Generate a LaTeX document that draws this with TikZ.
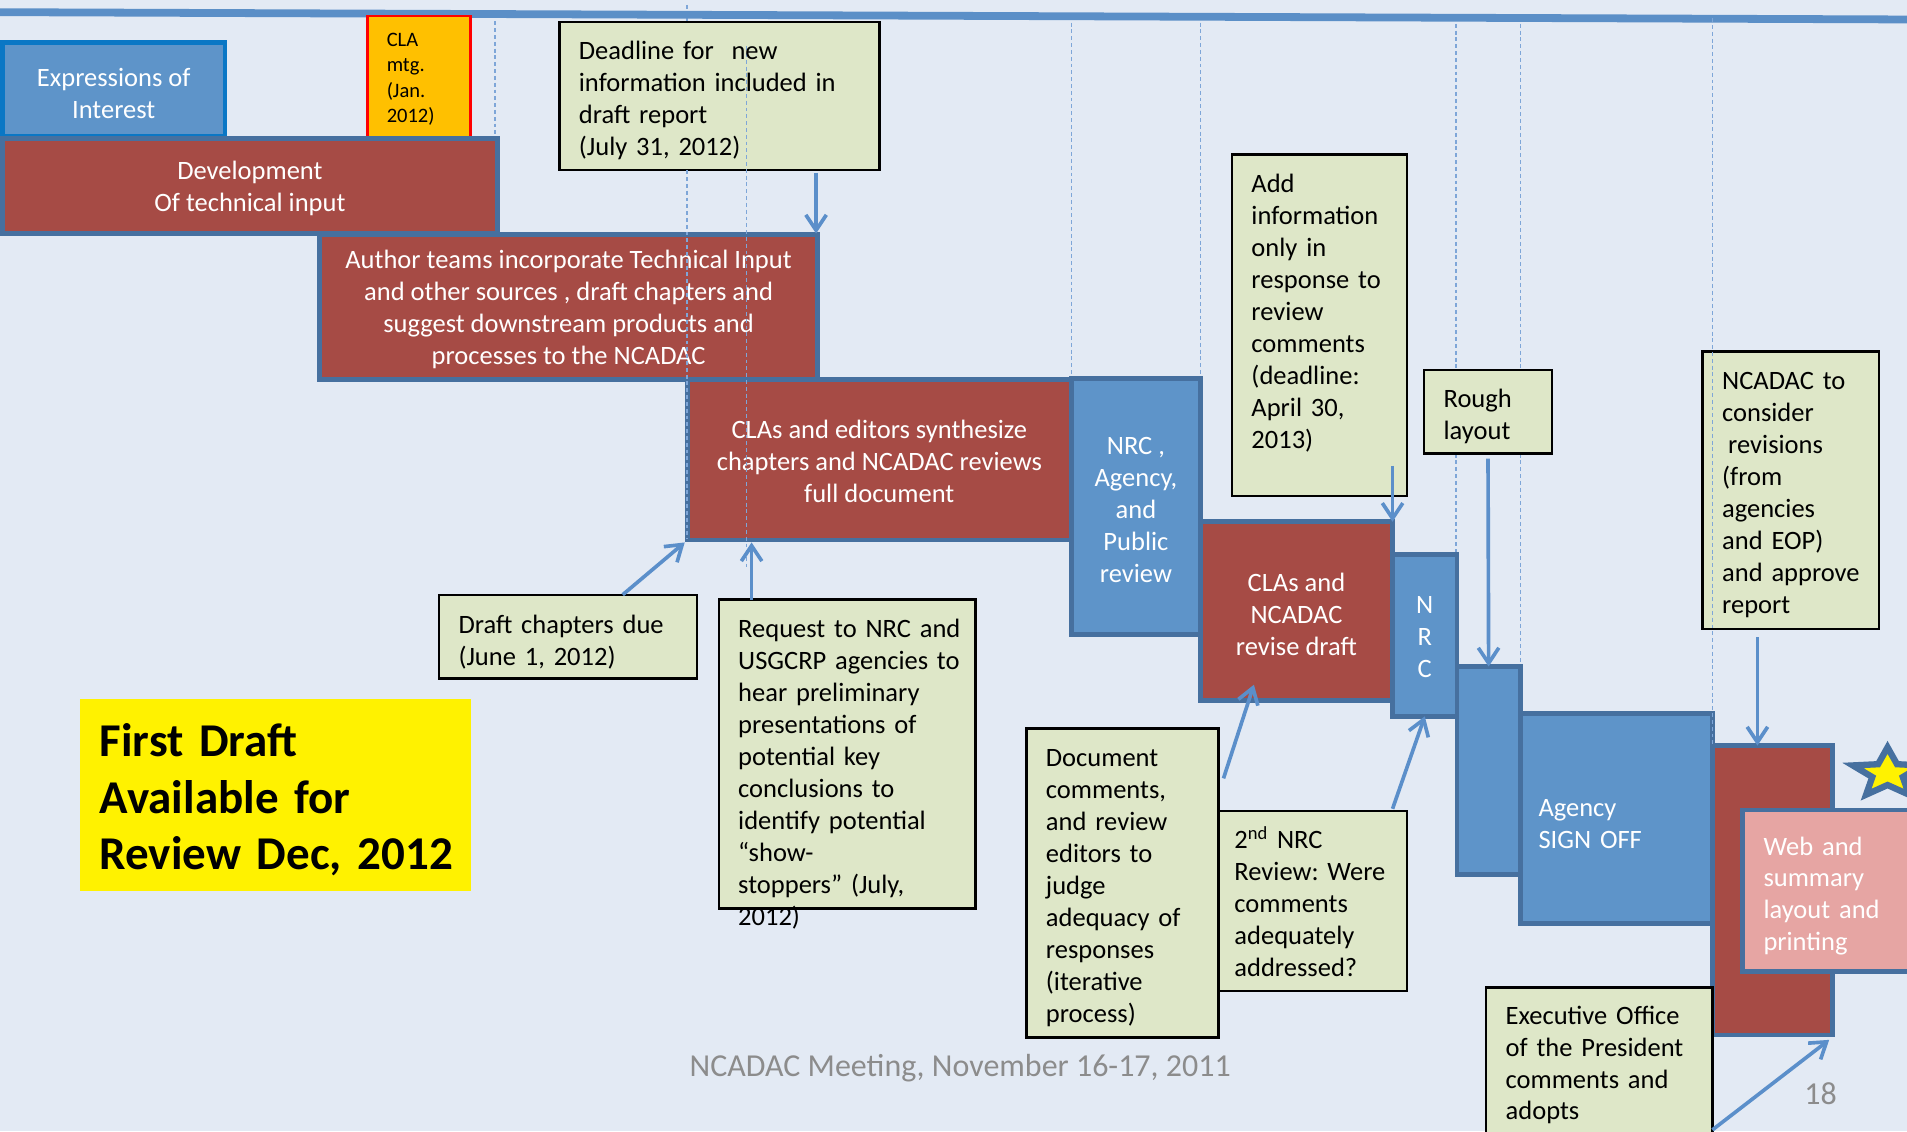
\documentclass[tikz,border=0pt]{standalone}
\usepackage{fontspec}
\setmainfont{Carlito}
\usetikzlibrary{arrows.meta,calc,fit}
\definecolor{bg}{HTML}{E3EAF4}
\definecolor{boxred}{HTML}{A64B45}
\definecolor{boxblue}{HTML}{5E94C9}
\definecolor{edgeblue}{HTML}{46709F}
\definecolor{brightblue}{HTML}{0A77C5}
\definecolor{notegreen}{HTML}{DEE7C8}
\definecolor{arrowblue}{HTML}{5B8FCA}
\definecolor{dashblue}{HTML}{7EA6D8}
\definecolor{pinkfill}{HTML}{E6A5A3}
\definecolor{footgray}{HTML}{8C8C8C}
\definecolor{clafill}{HTML}{FFC000}
\definecolor{linetop}{HTML}{5B8FC7}
\begin{document}
\frenchspacing
\begin{tikzpicture}[x=0.025cm,y=-0.025cm,
  every node/.style={inner sep=0pt, outer sep=0pt},
  phase/.style={draw=edgeblue, line width=0.1cm},
  redphase/.style={phase, fill=boxred},
  bluephase/.style={phase, fill=boxblue},
  phasetext/.style={text=white, align=center, font=\fontsize{15.5}{18.7}\selectfont},
  note/.style={fill=notegreen, draw=black, line width=0.05cm},
  notetext/.style={anchor=base west, text width=8cm, align=left, font=\fontsize{15.5}{18.7}\selectfont},
  smalltext/.style={anchor=base west, text width=3cm, align=left, font=\fontsize{12}{14.7}\selectfont},
  guide/.style={draw=dashblue, line width=0.03cm, dash pattern=on 0.08cm off 0.06cm},
  arr/.style={draw=arrowblue, line width=0.075cm, -{Straight Barb[length=9pt,width=12pt]}}
]
\useasboundingbox (0,0) rectangle (1568,930);
\clip (0,0) rectangle (1568,930);
\fill[bg] (0,0) rectangle (1568,930);

% guide lines behind
\draw[guide] (407,12) -- (407,114);
\draw[guide] (565,4) -- (565,18);
\draw[guide] (881,13) -- (881,311);
\draw[guide] (987,13) -- (987,311);
\draw[guide] (1197,14) -- (1197,304) (1197,373) -- (1197,456);
\draw[guide] (1250,14) -- (1250,304) (1250,373) -- (1250,548);

% top line
\draw[linetop, line width=0.16cm] (0,10) -- (1568,16);

% phase boxes
\node[bluephase, draw=brightblue, fit={(2,35) (185,112)}] (expr) {};
\node[draw=red, fill=clafill, line width=0.05cm, fit={(302,13) (387,114)}] (cla) {};
\node[redphase, fit={(2,114) (409,192)}] (dev) {};
\node[redphase, fit={(263,193) (672,312)}] (author) {};
\node[redphase, fit={(565,312) (881,444)}] (synth) {};
\node[bluephase, fit={(881,311) (987,522)}] (nrc) {};
\node[redphase, fit={(987,429) (1145,576)}] (revise) {};
\node[bluephase, fit={(1145,456) (1198,589)}] (nrcb) {};
\node[bluephase, fit={(1198,548) (1250,719)}] (blank) {};
\node[bluephase, fit={(1250,587) (1408,759)}] (agency) {};
\node[redphase, fit={(1408,613) (1507,851)}] (final) {};
\node[phase, fill=pinkfill, fit={(1433,666) (1600,799)}] (web) {};

% star
\coordinate (starc) at (1552,636);
\filldraw[fill=yellow, draw=edgeblue, line width=0.13cm, shift={(starc)}, xscale=30, yscale=-21.5]
  (90:1) -- (126:0.44) -- (162:1) -- (198:0.44) -- (234:1) -- (270:0.44)
  -- (306:1) -- (342:0.44) -- (18:1) -- (54:0.44) -- cycle;

% texts in phase boxes
\node[phasetext] (exprtext) at ($(expr.center)+(0,3.5)$) {Expressions of\\Interest};
\node[phasetext] (devtext) at ($(dev.center)+(0,2)$) {Development\\Of technical input};
\node[phasetext] (authortext) at ($(author.center)+(0,2)$) {Author teams incorporate Technical Input\\and other sources , draft chapters and\\suggest downstream products and\\processes to the NCADAC};
\node[phasetext] (synthtext) at ($(synth.center)+(0,1)$) {CLAs and editors synthesize\\chapters and NCADAC reviews\\full document};
\node[phasetext] (nrctext) at ($(nrc.center)+(0,2.5)$) {NRC ,\\Agency,\\and\\Public\\review};
\node[phasetext] (revisetext) at ($(revise.center)+(0,2.5)$) {CLAs and\\NCADAC\\revise draft};
\node[phasetext] (nrcbtext) at ($(nrcb.center)+(0,1.5)$) {N\\R\\C};

% notes
\node[note, fit={(460,18) (723,140)}] (deadline) {};
\node[note, fit={(1013,127) (1157,408)}] (addinfo) {};
\node[note, fit={(1171,304) (1276,373)}] (rough) {};
\node[note, fit={(1400,289) (1545,517)}] (ncadac) {};
\node[note, fit={(361,489) (573,558)}] (draftdue) {};
\node[note, fit={(591,493) (802,747)}] (request) {};
\node[note, fit={(844,599) (1002,853)}] (doccom) {};
\node[note, fit={(1002,667) (1157,815)}] (second) {};
\node[note, fit={(1222,812) (1408,960)}] (exec) {};
\node[fill=yellow, fit={(66,575) (387,733)}] (first) {};

% guide lines on top
\draw[guide] (565,140) -- (565,443);
\draw[guide] (614,38) -- (614,466);
\draw[guide] (1408,15) -- (1408,613);

% texts
\node[smalltext] (clatext) at (318,38.5) {CLA\\mtg.\\(Jan.\\2012)};
\node[notetext] (deadlinetext) at (476,49) {Deadline for\ \ new\\information included in\\draft report\\(July 31, 2012)};
\node[notetext] (addinfotext) at (1029,158) {Add\\information\\only in\\response to\\review\\comments\\(deadline:\\April 30,\\2013)};
\node[notetext] (roughtext) at (1187,335) {Rough\\layout};
\node[notetext] (ncadactext) at (1416,320) {NCADAC to\\consider\\\hspace*{0.23em}revisions\\(from\\agencies\\and EOP)\\and approve\\report};
\node[notetext] (draftduetext) at (377,521) {Draft chapters due\\(June 1, 2012)};
\node[notetext] (requesttext) at (607,524) {Request to NRC and\\USGCRP agencies to\\hear preliminary\\presentations of\\potential key\\conclusions to\\identify potential\\“show-\\stoppers” (July,\\2012)};
\node[notetext] (doccomtext) at (860,630) {Document\\comments,\\and review\\editors to\\judge\\adequacy of\\responses\\(iterative\\process)};
\node[notetext] (secondtext) at (1015,698) {2\textsuperscript{nd} NRC\\Review: Were\\comments\\adequately\\addressed?};
\node[notetext] (exectext) at (1238,842) {Executive Office\\of the President\\comments and\\adopts};
\node[notetext, text=white] (agencytext) at (1265,671) {Agency\\SIGN OFF};
\node[notetext, text=white] (webtext) at (1450,703) {Web and\\summary\\layout and\\printing};
\node[anchor=base west, text width=8cm, align=left, font=\bfseries\fontsize{27.5}{33.1}\selectfont] (firsttext) at (82,622) {First Draft\\Available for\\Review Dec, 2012};
\node[anchor=base, text=footgray, font=\fontsize{18.7}{22}\selectfont] (footer) at (789.5,885) {NCADAC Meeting, November 16-17, 2011};
\node[anchor=base, text=footgray, font=\fontsize{18.7}{22}\selectfont] (pagenum) at (1497,908) {18};

% arrows
\draw[arr] ($(author.north east |- deadline.south)+(-1,2)$) -- ($(author.north east)+(-1,-1)$);
\draw[arr] ($(draftdue.north west)+(151,0)$) -- ($(synth.south west)+(-2,2)$);
\draw[arr] ($(request.north west)+(27,0)$) -- ($(synth.south west)+(53,2)$);
\draw[arr] ($(addinfo.south east)+(-12,-25)$) -- (revise.north east);
\draw[arr] ($(rough.south)+(0,4)$) -- (blank.north);
\draw[arr] ($(ncadac.south west)+(45,7)$) -- ($(final.north west)+(37,0)$);
\draw[arr] ($(doccom.north east)+(4,41)$) -- ($(revise.south west)+(44,-13)$);
\draw[arr] ($(second.north east)+(-12,-2)$) -- (nrcb.south);
\draw[arr] ($(exec.north east)+(0,117)$) -- ($(final.south east)+(-3,4)$);
\end{tikzpicture}
\end{document}
